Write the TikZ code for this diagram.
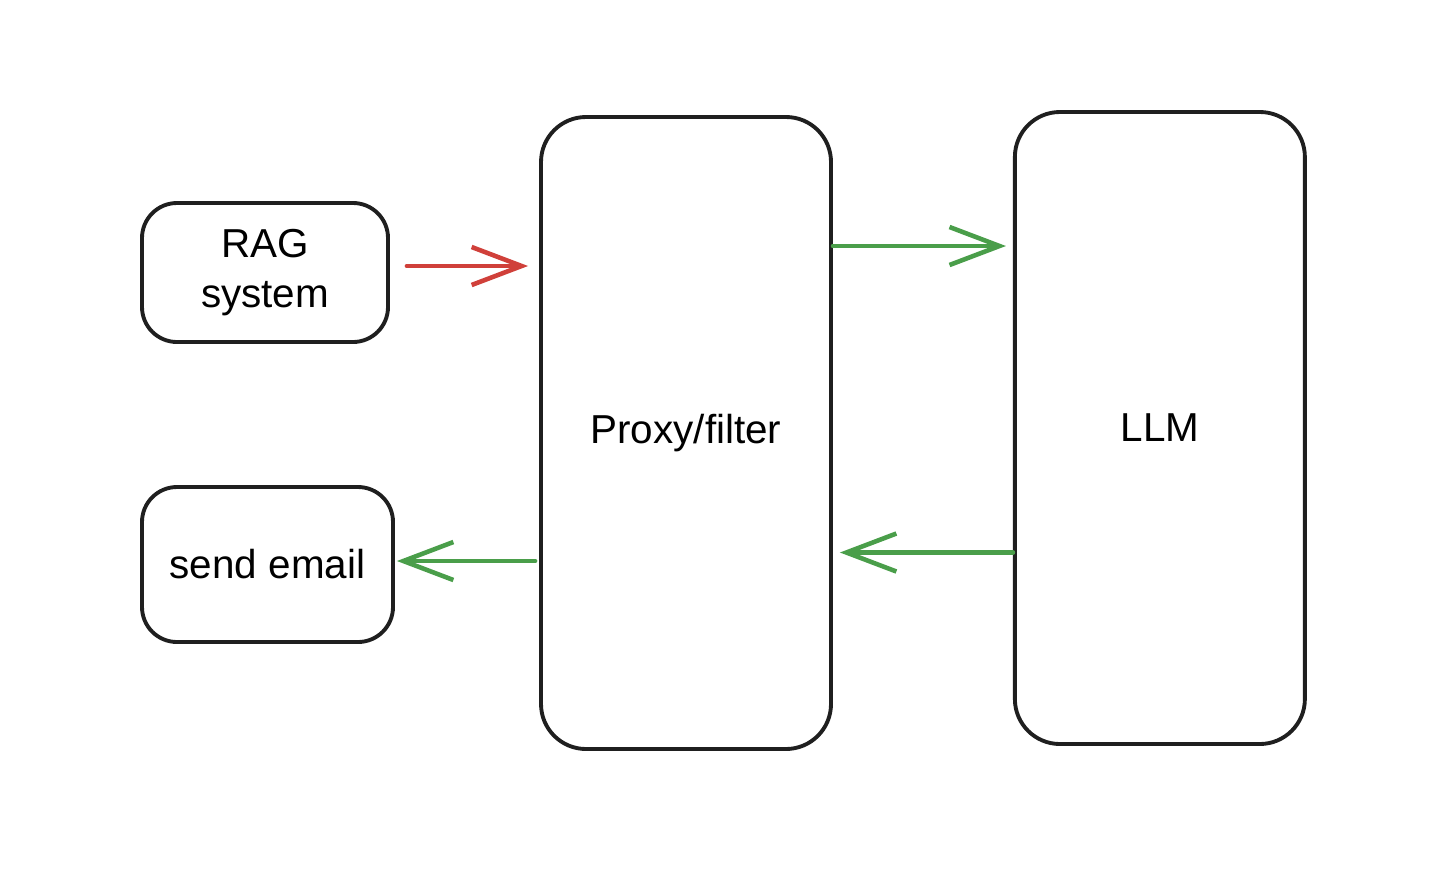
\documentclass[tikz,border=0pt]{standalone}
\usepackage{fontspec}
\setmainfont{Liberation Sans}
\usetikzlibrary{positioning,arrows.meta}

\definecolor{arrowred}{RGB}{208,64,58}
\definecolor{arrowgreen}{RGB}{74,158,74}

\tikzset{
  block/.style={draw=black!88, line width=1.1pt, rounded corners=0.35cm,
    align=center, inner sep=0pt, font=\fontsize{11.5}{14.2}\selectfont},
  tall/.style={block, minimum width=2.9cm, minimum height=6.32cm, rounded corners=0.45cm},
  flow/.style={line width=1.3pt, line cap=round,
    -{Straight Barb[length=0.5cm, width=0.38cm, line width=1.3pt]}},
}

\begin{document}
\begin{tikzpicture}
  \useasboundingbox (0,0) rectangle (14.56,-8.80);
  \node[tall] (proxy) at (6.86,-4.33) {Proxy/filter};
  \node[tall, right=1.80cm of proxy, yshift=0.05cm] (llm) {LLM};
  \node[block, minimum width=2.46cm, minimum height=1.39cm] (rag) at (2.65,-2.725) {RAG\\system};
  \node[block, minimum width=2.51cm, minimum height=1.55cm] (email) at (2.675,-5.645) {send email};

  \draw[flow, draw=arrowred, shorten <=0.17cm, shorten >=0.11cm]
    ([yshift=0.065cm]rag.east) -- ([yshift=0.065cm]rag.east -| proxy.west);
  \draw[flow, draw=arrowgreen, shorten >=0.07cm]
    ([yshift=1.87cm]proxy.east) -- ([yshift=1.87cm]proxy.east -| llm.west);
  \draw[flow, draw=arrowgreen, shorten >=0.07cm]
    ([yshift=-1.245cm]llm.west) -- ([yshift=-1.245cm]llm.west -| proxy.east);
  \draw[flow, draw=arrowgreen, shorten <=0.04cm, shorten >=0.02cm]
    ([yshift=0.035cm]email.east -| proxy.west) -- ([yshift=0.035cm]email.east);
\end{tikzpicture}
\end{document}
